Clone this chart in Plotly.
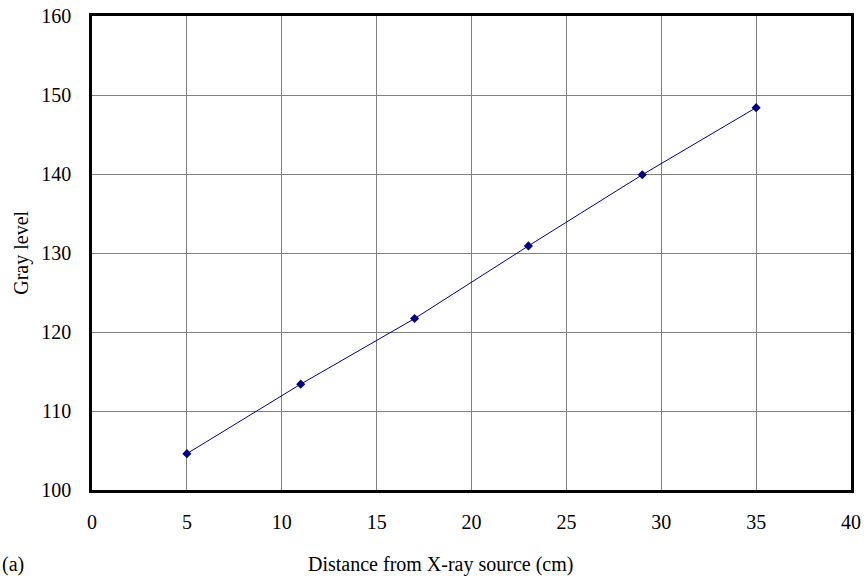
import plotly.graph_objects as go

distance_cm = [5, 11, 17, 23, 29, 35]
gray_level = [104.6, 113.4, 121.7, 130.9, 139.9, 148.4]
x_ticks = [0, 5, 10, 15, 20, 25, 30, 35, 40]
y_ticks = [100, 110, 120, 130, 140, 150, 160]

font_family = "Liberation Serif, Times New Roman, serif"
FS = 20

fig = go.Figure()
fig.add_trace(go.Scatter(
    x=distance_cm, y=gray_level, mode="lines+markers",
    line=dict(color="#000080", width=1),
    marker=dict(symbol="diamond", size=7, color="#000080"),
    showlegend=False,
))

axis_common = dict(
    showline=True, linecolor="black", linewidth=2.5, mirror=True,
    showgrid=True, gridcolor="#808080", gridwidth=1,
    zeroline=False, automargin=False,
    tickfont=dict(family=font_family, size=FS, color="black"),
)

fig.update_xaxes(range=[0, 40], tickvals=x_ticks, ticks="outside", ticklen=12,
                 tickcolor="rgba(0,0,0,0)", **axis_common)
fig.update_yaxes(range=[100, 160], tickvals=y_ticks, ticks="outside", ticklen=14,
                 tickcolor="rgba(0,0,0,0)", **axis_common)

fig.update_layout(
    width=867, height=579,
    margin=dict(l=92, r=16, t=16, b=89),
    plot_bgcolor="white", paper_bgcolor="white",
    font=dict(family=font_family, size=FS, color="black"),
    annotations=[
        dict(text="Distance from X-ray source (cm)", xref="paper", yref="paper",
             x=(440 - 92) / 759, y=(490.5 - 565) / 474.5, showarrow=False,
             xanchor="center", yanchor="middle", font=dict(size=FS)),
        dict(text="(a)", xref="paper", yref="paper",
             x=(0 - 92) / 759, y=(490.5 - 565) / 474.5, showarrow=False,
             xanchor="left", yanchor="middle", font=dict(size=FS)),
        dict(text="Gray level", xref="paper", yref="paper",
             x=(22 - 92) / 759, y=(490.5 - 253) / 474.5, showarrow=False,
             textangle=-90, xanchor="center", yanchor="middle", font=dict(size=FS)),
    ],
)

fig.write_html("out.html", config={"displayModeBar": False},
               post_script="document.body.style.margin='0';")
